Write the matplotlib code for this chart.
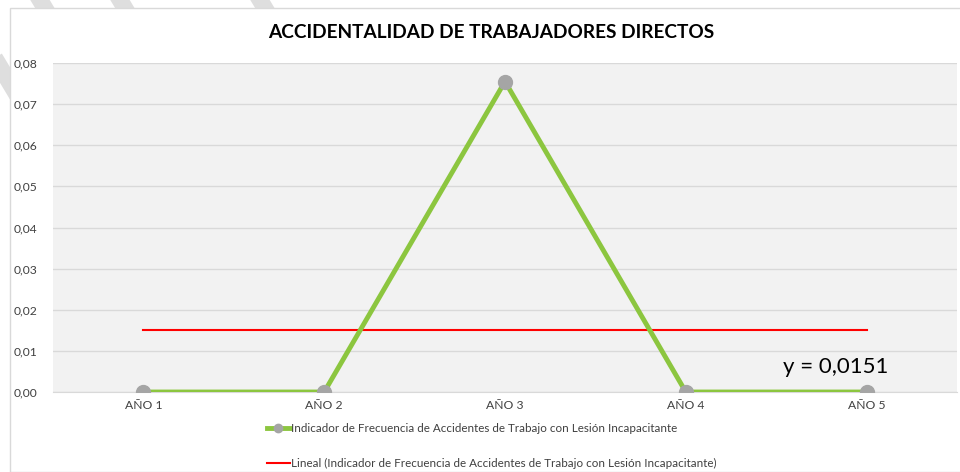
import matplotlib.pyplot as plt
from matplotlib.lines import Line2D
from matplotlib.patches import Rectangle
import numpy as np

plt.rcParams['font.family'] = ['Lato', 'DejaVu Sans']

years = ['AÑO 1', 'AÑO 2', 'AÑO 3', 'AÑO 4', 'AÑO 5']
frecuencia = [0.0, 0.0, 0.0755, 0.0, 0.0]
trend_value = 0.0151
yticks = [0.00, 0.01, 0.02, 0.03, 0.04, 0.05, 0.06, 0.07, 0.08]

series_name = 'Indicador de Frecuencia de Accidentes de Trabajo con Lesión Incapacitante'
trend_name = f'Lineal ({series_name})'

fig = plt.figure(figsize=(9.6, 4.72), dpi=100)
W, H = 960, 472

# faint diagonal stripes in the page background
for x0 in [-40, 40, 120, 260]:
    fig.add_artist(Line2D([x0 / W, (x0 + 120) / W], [1, 1 - 200 / H], transform=fig.transFigure,
                          color='#dedede', lw=12, zorder=0))

# chart area frame
fig.patches.append(Rectangle((10 / W, 0), 1.2, (H - 8) / H, transform=fig.transFigure,
                             facecolor='white', edgecolor='#d9d9d9', lw=1, zorder=1))

ax = fig.add_axes([53 / W, (H - 392) / H, (957 - 53) / W, (392 - 63) / H])
ax.set_facecolor('#f2f2f2')
ax.set_zorder(2)

x = np.arange(len(years))
ax.plot(x, frecuencia, color='#8cc63f', lw=3.5, marker='o', markersize=10,
        markerfacecolor='#a5a5a5', markeredgecolor='#a5a5a5', zorder=4, solid_capstyle='round')
ax.plot([x[0], x[-1]], [trend_value, trend_value], color='#ff0000', lw=1.5, zorder=3)
ax.text(3.83, 0.0062, 'y = ' + f'{trend_value:.4f}'.replace('.', ','), fontsize=16,
        color='#000000', ha='center', va='center', zorder=5)

ax.set_xlim(-0.5, len(years) - 0.5)
ax.set_ylim(0, 0.08)
ax.set_yticks(yticks)
ax.set_yticklabels([f'{v:.2f}'.replace('.', ',') for v in yticks], fontsize=8.7, color='#404040')
ax.set_xticks(x)
ax.set_xticklabels(years, fontsize=8.7, color='#404040')
ax.tick_params(length=0, pad=6)
ax.tick_params(axis='y', pad=11)
ax.grid(axis='y', color='#d9d9d9', lw=1)
ax.set_axisbelow(True)
for side in ['top', 'right', 'left']:
    ax.spines[side].set_visible(False)
ax.spines['bottom'].set_color('#d9d9d9')

fig.text(491 / W, 1 - 33 / H, 'ACCIDENTALIDAD DE TRABAJADORES DIRECTOS', fontsize=13.7,
         fontweight='bold', ha='center', va='center', color='#000000', zorder=5)

handles = [
    Line2D([0], [0], color='#8cc63f', lw=3.5, marker='o', markersize=6,
           markerfacecolor='#a5a5a5', markeredgecolor='#a5a5a5', label=series_name),
    Line2D([0], [0], color='#ff0000', lw=1.5, label=trend_name),
]
leg = fig.legend(handles=handles, loc='upper left', bbox_to_anchor=(262 / W, 1 - 418 / H),
                 frameon=False, fontsize=8.4, handlelength=2.0, handletextpad=0.1,
                 labelspacing=2.1, borderaxespad=0)
for t in leg.get_texts():
    t.set_color('#404040')

fig.savefig('out.png', dpi=100)
